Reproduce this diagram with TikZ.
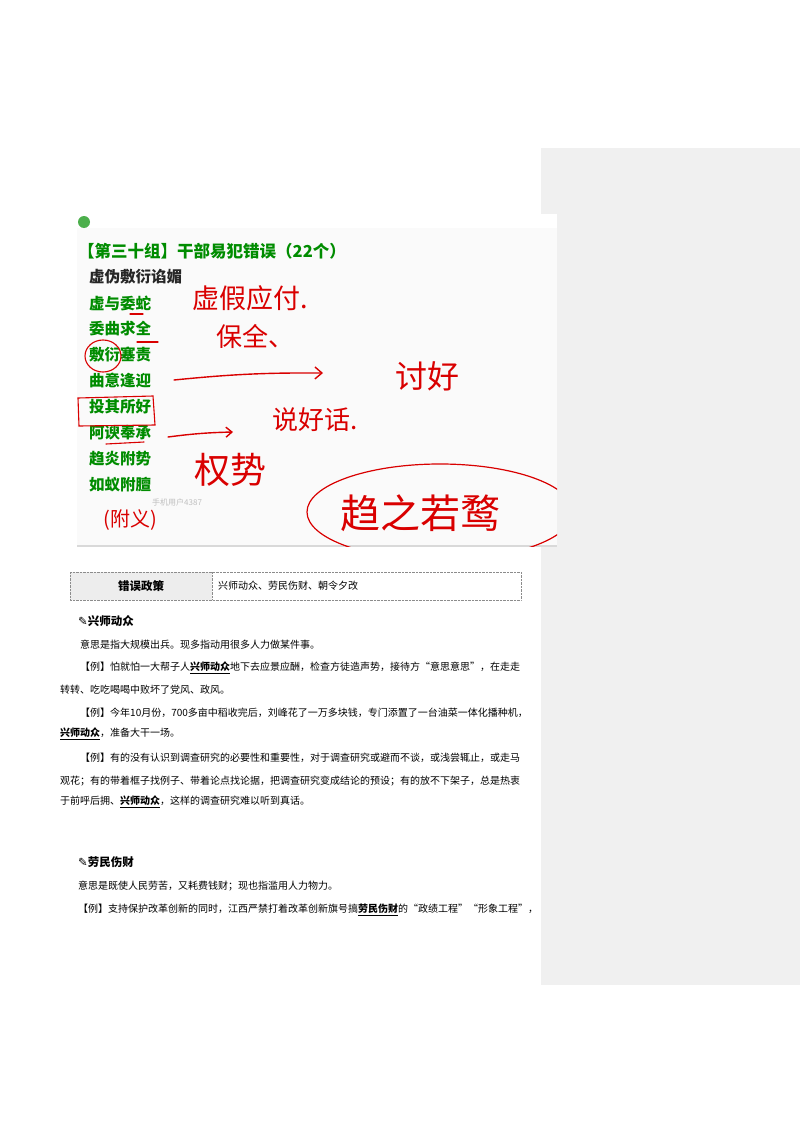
\documentclass[tikz,border=0pt]{standalone}
\usepackage{fontspec}
\usetikzlibrary{arrows.meta}
\setmainfont{Noto Sans CJK SC}
\newfontfamily\djv{DejaVu Sans}
\begin{document}
\begin{tikzpicture}[x=1pt,y=-1pt,
  hw/.style={text=red!85!black,font=\fontsize{#1}{#1}\selectfont,inner sep=0pt},
  hw/.default=26,
  pen/.style={red!85!black,line width=1.4pt,line cap=round},
  item/.style={anchor=west,inner sep=0pt,text=green!55!black,font=\fontsize{15.5}{15.5}\selectfont\bfseries},
  body/.style={anchor=west,inner sep=0pt,font=\fontsize{10}{10}\selectfont},
  head/.style={anchor=west,inner sep=0pt,font=\fontsize{11.5}{11.5}\selectfont\bfseries}]
\useasboundingbox (0,0) rectangle (800,1132);
\fill[white] (0,0) rectangle (800,1132);
\fill[black!6] (541,148) rectangle (800,985);
% screenshot
\fill[white] (77,214) rectangle (557,547);
\fill[black!2] (77,228) rectangle (557,547);
\draw[black!15,line width=2pt] (77,546) -- (557,546);
\fill[green!55!black!70] (84,222) circle (6);
\node[item,font=\fontsize{16.5}{16.5}\selectfont\bfseries] (title) at (78,251) {【第三十组】干部易犯错误（22个）};
\node[item,text=black!85] (i0) at (89,277) {虚伪敷衍谄媚};
\node[item] (i1) at (89,303) {虚与委蛇};
\node[item] (i2) at (89,329) {委曲求全};
\node[item] (i3) at (89,355) {敷衍塞责};
\node[item] (i4) at (89,381) {曲意逢迎};
\node[item] (i5) at (89,407) {投其所好};
\node[item] (i6) at (89,433) {阿谀奉承};
\node[item] (i7) at (89,459) {趋炎附势};
\node[item] (i8) at (89,485) {如蚁附膻};
\node[anchor=west,inner sep=0pt,text=black!25,font=\fontsize{8}{8}\selectfont] (wm) at (152,502) {手机用户4387};
% handwriting
\node[hw=27] (h1) at (250,298) {虚假应付.};
\node[hw=26] (h2) at (255,336) {保全、};
\node[hw=32] (h3) at (427,376) {讨好};
\node[hw=26] (h4) at (315,420) {说好话.};
\node[hw=36] (h5) at (230,470) {权势};
\node[hw=40] (h6) at (420,513) {趋之若鹜};
\node[hw=20] (h7) at (130,520) {(附义)};
\coordinate (a1s) at (174,380); \coordinate (a1e) at (323,373);
\draw[pen,-{Straight Barb[length=7pt,width=12pt]}] (a1s) to[bend left=3] (a1e);
\coordinate (a2s) at (168,437); \coordinate (a2e) at (233,432);
\draw[pen,-{Straight Barb[length=6pt,width=10pt]}] (a2s) to[bend left=3] (a2e);
\draw[pen,line width=1.1pt] (103,356) ellipse (18 and 16);
\draw[pen,line width=1.1pt] (78,398) -- (153,396) -- (155,425) -- (79,426) -- cycle;
\draw[pen,line width=1.1pt] (130,314) -- (143,314);
\draw[pen,line width=1.1pt] (137,342) -- (158,342);
\draw[pen,line width=1.1pt] (106,444) -- (144,442);
\begin{scope}
\clip (77,226) rectangle (557,546);
\draw[pen,line width=1.2pt] (440,512) ellipse (133 and 48);
\end{scope}
% table
\fill[black!7] (70,572) rectangle (212,600);
\draw[black!45,densely dotted] (70,572) rectangle (521,600) (212,572) -- (212,600);
\node[head,anchor=center] (t1) at (141,586) {错误政策};
\node[body] (t2) at (218,586) {兴师动众、劳民伤财、朝令夕改};
% text
\node[head] (s1) at (78,621) {{\djv ✎}兴师动众};
\node[body] (l1) at (80,645) {意思是指大规模出兵。现多指动用很多人力做某件事。};
\node[body] (l2) at (80,668) {【例】怕就怕一大帮子人\textbf{\underline{兴师动众}}地下去应景应酬，检查方徒造声势，接待方“意思意思”，在走走};
\node[body] (l3) at (60,690) {转转、吃吃喝喝中败坏了党风、政风。};
\node[body] (l4) at (80,713) {【例】今年10月份，700多亩中稻收完后，刘峰花了一万多块钱，专门添置了一台油菜一体化播种机，};
\node[body] (l5) at (60,734) {\textbf{\underline{兴师动众}}，准备大干一场。};
\node[body] (l6) at (80,758) {【例】有的没有认识到调查研究的必要性和重要性，对于调查研究或避而不谈，或浅尝辄止，或走马};
\node[body] (l7) at (60,781) {观花；有的带着框子找例子、带着论点找论据，把调查研究变成结论的预设；有的放不下架子，总是热衷};
\node[body] (l8) at (60,802) {于前呼后拥、\textbf{\underline{兴师动众}}，这样的调查研究难以听到真话。};
\node[head] (s2) at (78,862) {{\djv ✎}劳民伤财};
\node[body] (m1) at (78,886) {意思是既使人民劳苦，又耗费钱财；现也指滥用人力物力。};
\node[body] (m2) at (78,910) {【例】支持保护改革创新的同时，江西严禁打着改革创新旗号搞\textbf{\underline{劳民伤财}}的“政绩工程”“形象工程”，};
\end{tikzpicture}
\end{document}
